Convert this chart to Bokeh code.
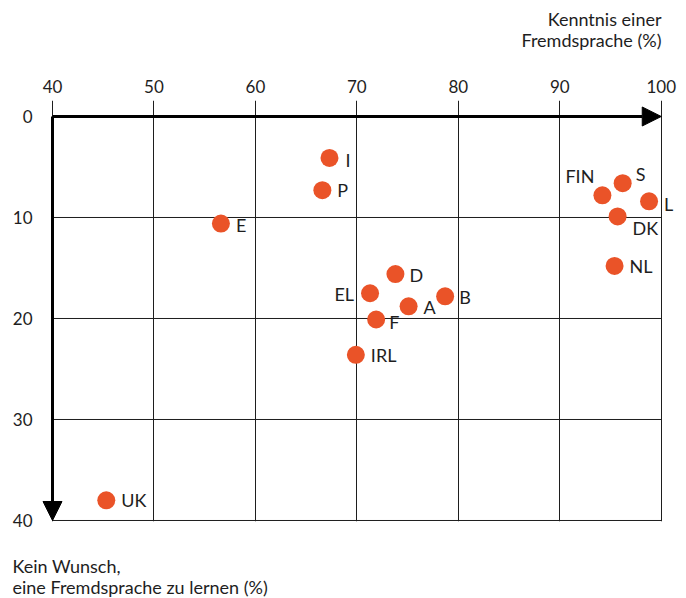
from bokeh.plotting import figure
from bokeh.models import (ColumnDataSource, LabelSet, Arrow, NormalHead,
                          FixedTicker, Range1d, Title)
from bokeh.core.properties import value
from bokeh.embed import file_html
from bokeh.resources import INLINE

# ---- data ----
countries = ["I", "P", "E", "UK", "D", "EL", "B", "A", "F", "IRL",
             "FIN", "S", "L", "DK", "NL"]
knowledge = [67.3, 66.6, 56.6, 45.3, 73.8, 71.3, 78.7, 75.1, 71.9, 69.9,
             94.2, 96.2, 98.8, 95.7, 95.4]
no_wish = [4.1, 7.3, 10.6, 38.0, 15.6, 17.5, 17.8, 18.8, 20.1, 23.6,
           7.8, 6.6, 8.4, 9.9, 14.8]
x_ticks = [40, 50, 60, 70, 80, 90, 100]
y_ticks = [0, 10, 20, 30, 40]
x_title = ["Kenntnis einer", "Fremdsprache (%)"]
y_title = ["Kein Wunsch,", "eine Fremdsprache zu lernen (%)"]

# ---- label placement (screen px, layout only) ----
label_dx = [16, 15, 15, 15, 14, -16, 14, 15, 13, 15, -8, 13, 15, 15, 15]
label_dy = [-2, 0, -1, 0, -1, -1, -1, -1, -2, 0, 19.5, 9, -2.5, -11.5, 0]
label_align = ["left", "left", "left", "left", "left", "right", "left", "left",
               "left", "left", "right", "left", "left", "left", "left"]

FONT = "Lato"
INK = "#1e1e1e"
DOT = "#EA5328"

# frame extends a little past the grid box so the arrow heads / labels are not clipped
p = figure(width=686, height=598, output_backend="svg", toolbar_location=None,
           x_range=Range1d(38.817, 102.49), y_range=Range1d(40.1, -1.584),
           x_axis_location="above", min_border_left=40, min_border_right=0,
           min_border_top=100, min_border_bottom=77)
p.background_fill_color = "white"
p.border_fill_color = "white"
p.outline_line_color = None

# axes
xa = p.xaxis[0]
xa.ticker = FixedTicker(ticks=x_ticks)
xa.axis_line_color = None
xa.major_tick_line_color = None
xa.minor_tick_line_color = None
xa.major_tick_out = 0
xa.major_tick_in = 0
xa.major_label_standoff = 8
xa.major_label_text_font = FONT
xa.major_label_text_font_size = "17px"
xa.major_label_text_color = INK

ya = p.yaxis[0]
ya.ticker = FixedTicker(ticks=y_ticks)
ya.axis_line_color = None
ya.major_tick_line_color = None
ya.minor_tick_line_color = None
ya.major_tick_out = 0
ya.major_tick_in = 0
ya.major_label_standoff = 8
ya.major_label_text_font = FONT
ya.major_label_text_font_size = "17px"
ya.major_label_text_color = INK

# vertical grid lines (they also form the tick marks above the top axis)
p.xgrid.ticker = FixedTicker(ticks=x_ticks)
p.xgrid.grid_line_color = INK
p.xgrid.grid_line_width = 1
p.ygrid.grid_line_color = None

# horizontal grid lines, limited to the grid box
hy = y_ticks[1:]
p.segment(x0=[x_ticks[0]] * len(hy), x1=[x_ticks[-1]] * len(hy), y0=hy, y1=hy,
          line_color=INK, line_width=1)

# axis arrows
p.add_layout(Arrow(end=NormalHead(size=19, fill_color="black", line_color="black"),
                   x_start=x_ticks[0], y_start=y_ticks[0],
                   x_end=x_ticks[-1], y_end=y_ticks[0],
                   line_width=3, line_color="black"))
p.add_layout(Arrow(end=NormalHead(size=19, fill_color="black", line_color="black"),
                   x_start=x_ticks[0], y_start=y_ticks[0],
                   x_end=x_ticks[0], y_end=y_ticks[-1],
                   line_width=3, line_color="black"))

src = ColumnDataSource(dict(x=knowledge, y=no_wish, name=countries,
                            dx=label_dx, dy=label_dy, align=label_align))
p.scatter("x", "y", source=src, size=18, fill_color=DOT, line_color=None)
p.add_layout(LabelSet(x="x", y="y", text="name", source=src,
                      x_offset="dx", y_offset="dy", text_align="align",
                      text_baseline="middle", text_font=value(FONT),
                      text_font_size=value("18px"), text_color=value(INK)))

# axis titles (spacer + one Title per line)
def spacer(side, gap):
    p.add_layout(Title(text=" ", standoff=gap, text_font_size="1px"), side)

def line(side, txt, align, offset):
    p.add_layout(Title(text=txt, align=align, offset=offset, standoff=-3,
                       vertical_align="bottom",
                       text_font=FONT, text_font_size="18px",
                       text_font_style="normal", text_color=INK), side)

spacer("above", 24)
line("above", x_title[1], "right", 25)
line("above", x_title[0], "right", 25)

spacer("below", 29.5)
line("below", y_title[0], "left", -28)
line("below", y_title[1], "left", -28)

open("out.html", "w").write(file_html(p, INLINE))
